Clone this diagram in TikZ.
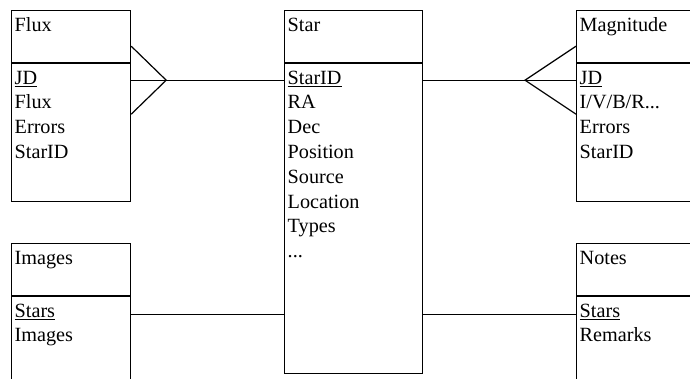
\documentclass[tikz,border=0pt]{standalone}
\usepackage{fontspec}
\setmainfont{Liberation Serif}
\usepackage{tikz}
\usetikzlibrary{positioning,calc}

\begin{document}
\begin{tikzpicture}[
    x=1pt,y=-1pt,
    font=\fontsize{20.2}{24}\selectfont,
    tete/.style  = {rectangle,draw,line width=1.2pt,anchor=north west,inner sep=0pt,
                    minimum height=52pt},
    corps/.style = {rectangle,draw,line width=1.2pt,inner sep=0pt},
    nom/.style   = {anchor=base west,inner sep=0pt},
    attr/.style  = {anchor=base west,inner sep=0pt},
    lien/.style  = {line width=1.2pt},
  ]

  \useasboundingbox (0,0) rectangle (690,379);
  \clip (0,0) rectangle (690,379);

  % ── Entités ───────────────────────────────────────────────────────────────
  \node[tete,minimum width=119pt] (fluxtete) at (11,10) {};
  \node[corps,minimum width=119pt,minimum height=138pt,below=0pt of fluxtete] (fluxcorps) {};

  \node[tete,minimum width=138pt] (startete) at (284,10) {};
  \node[corps,minimum width=138pt,minimum height=310pt,below=0pt of startete] (starcorps) {};

  \node[tete,minimum width=120pt] (magtete) at (576,10) {};
  \node[corps,minimum width=120pt,minimum height=138pt,below=0pt of magtete] (magcorps) {};

  \node[tete,minimum width=119pt] (imgtete) at (11,243) {};
  \node[corps,minimum width=119pt,minimum height=138pt,below=0pt of imgtete] (imgcorps) {};

  \node[tete,minimum width=120pt] (notetete) at (576,243) {};
  \node[corps,minimum width=120pt,minimum height=138pt,below=0pt of notetete] (notecorps) {};

  % ── Noms et attributs ─────────────────────────────────────────────────────
  \node[nom] (fluxnom) at ([shift={(3.5,22)}]fluxtete.north west) {Flux};
  \foreach \a [count=\i from 0] in {\underline{JD},Flux,Errors,StarID}
    \node[attr] (flux-\i) at ([shift={(3.5,21+24.7*\i)}]fluxcorps.north west) {\a};

  \node[nom] (starnom) at ([shift={(3.5,22)}]startete.north west) {Star};
  \foreach \a [count=\i from 0] in {\underline{StarID},RA,Dec,Position,Source,Location,Types,\mbox{...}}
    \node[attr] (star-\i) at ([shift={(3.5,21+24.8*\i)}]starcorps.north west) {\a};

  \node[nom] (magnom) at ([shift={(3.5,22)}]magtete.north west) {Magnitude};
  \foreach \a [count=\i from 0] in {\underline{JD},\mbox{I/V/B/R...},Errors,StarID}
    \node[attr] (mag-\i) at ([shift={(3.5,21+24.7*\i)}]magcorps.north west) {\a};

  \node[nom] (imgnom) at ([shift={(3.5,22)}]imgtete.north west) {Images};
  \foreach \a [count=\i from 0] in {\underline{Stars},Images}
    \node[attr] (img-\i) at ([shift={(3.5,21+24.7*\i)}]imgcorps.north west) {\a};

  \node[nom] (notenom) at ([shift={(3.5,22)}]notetete.north west) {Notes};
  \foreach \a [count=\i from 0] in {\underline{Stars},Remarks}
    \node[attr] (note-\i) at ([shift={(3.5,21+24.7*\i)}]notecorps.north west) {\a};

  % ── Liens ─────────────────────────────────────────────────────────────────
  \coordinate (pf) at ([shift={(35,17)}]fluxcorps.north east);
  \draw[lien] (fluxcorps.east |- pf) -- (pf) -- (starcorps.west |- pf);
  \draw[lien] ([yshift=34pt]fluxcorps.east |- pf) -- (pf) -- ([yshift=-34pt]fluxcorps.east |- pf);

  \coordinate (pm) at ([shift={(-51,17)}]magcorps.north west);
  \draw[lien] (starcorps.east |- pm) -- (pm) -- (magcorps.west |- pm);
  \draw[lien] ([yshift=34pt]magcorps.west |- pm) -- (pm) -- ([yshift=-34pt]magcorps.west |- pm);

  \coordinate (pi) at ([yshift=-18pt]imgcorps.north east);
  \draw[lien] (pi) -- (starcorps.west |- pi);
  \draw[lien] (starcorps.east |- pi) -- (notecorps.west |- pi);

\end{tikzpicture}
\end{document}
